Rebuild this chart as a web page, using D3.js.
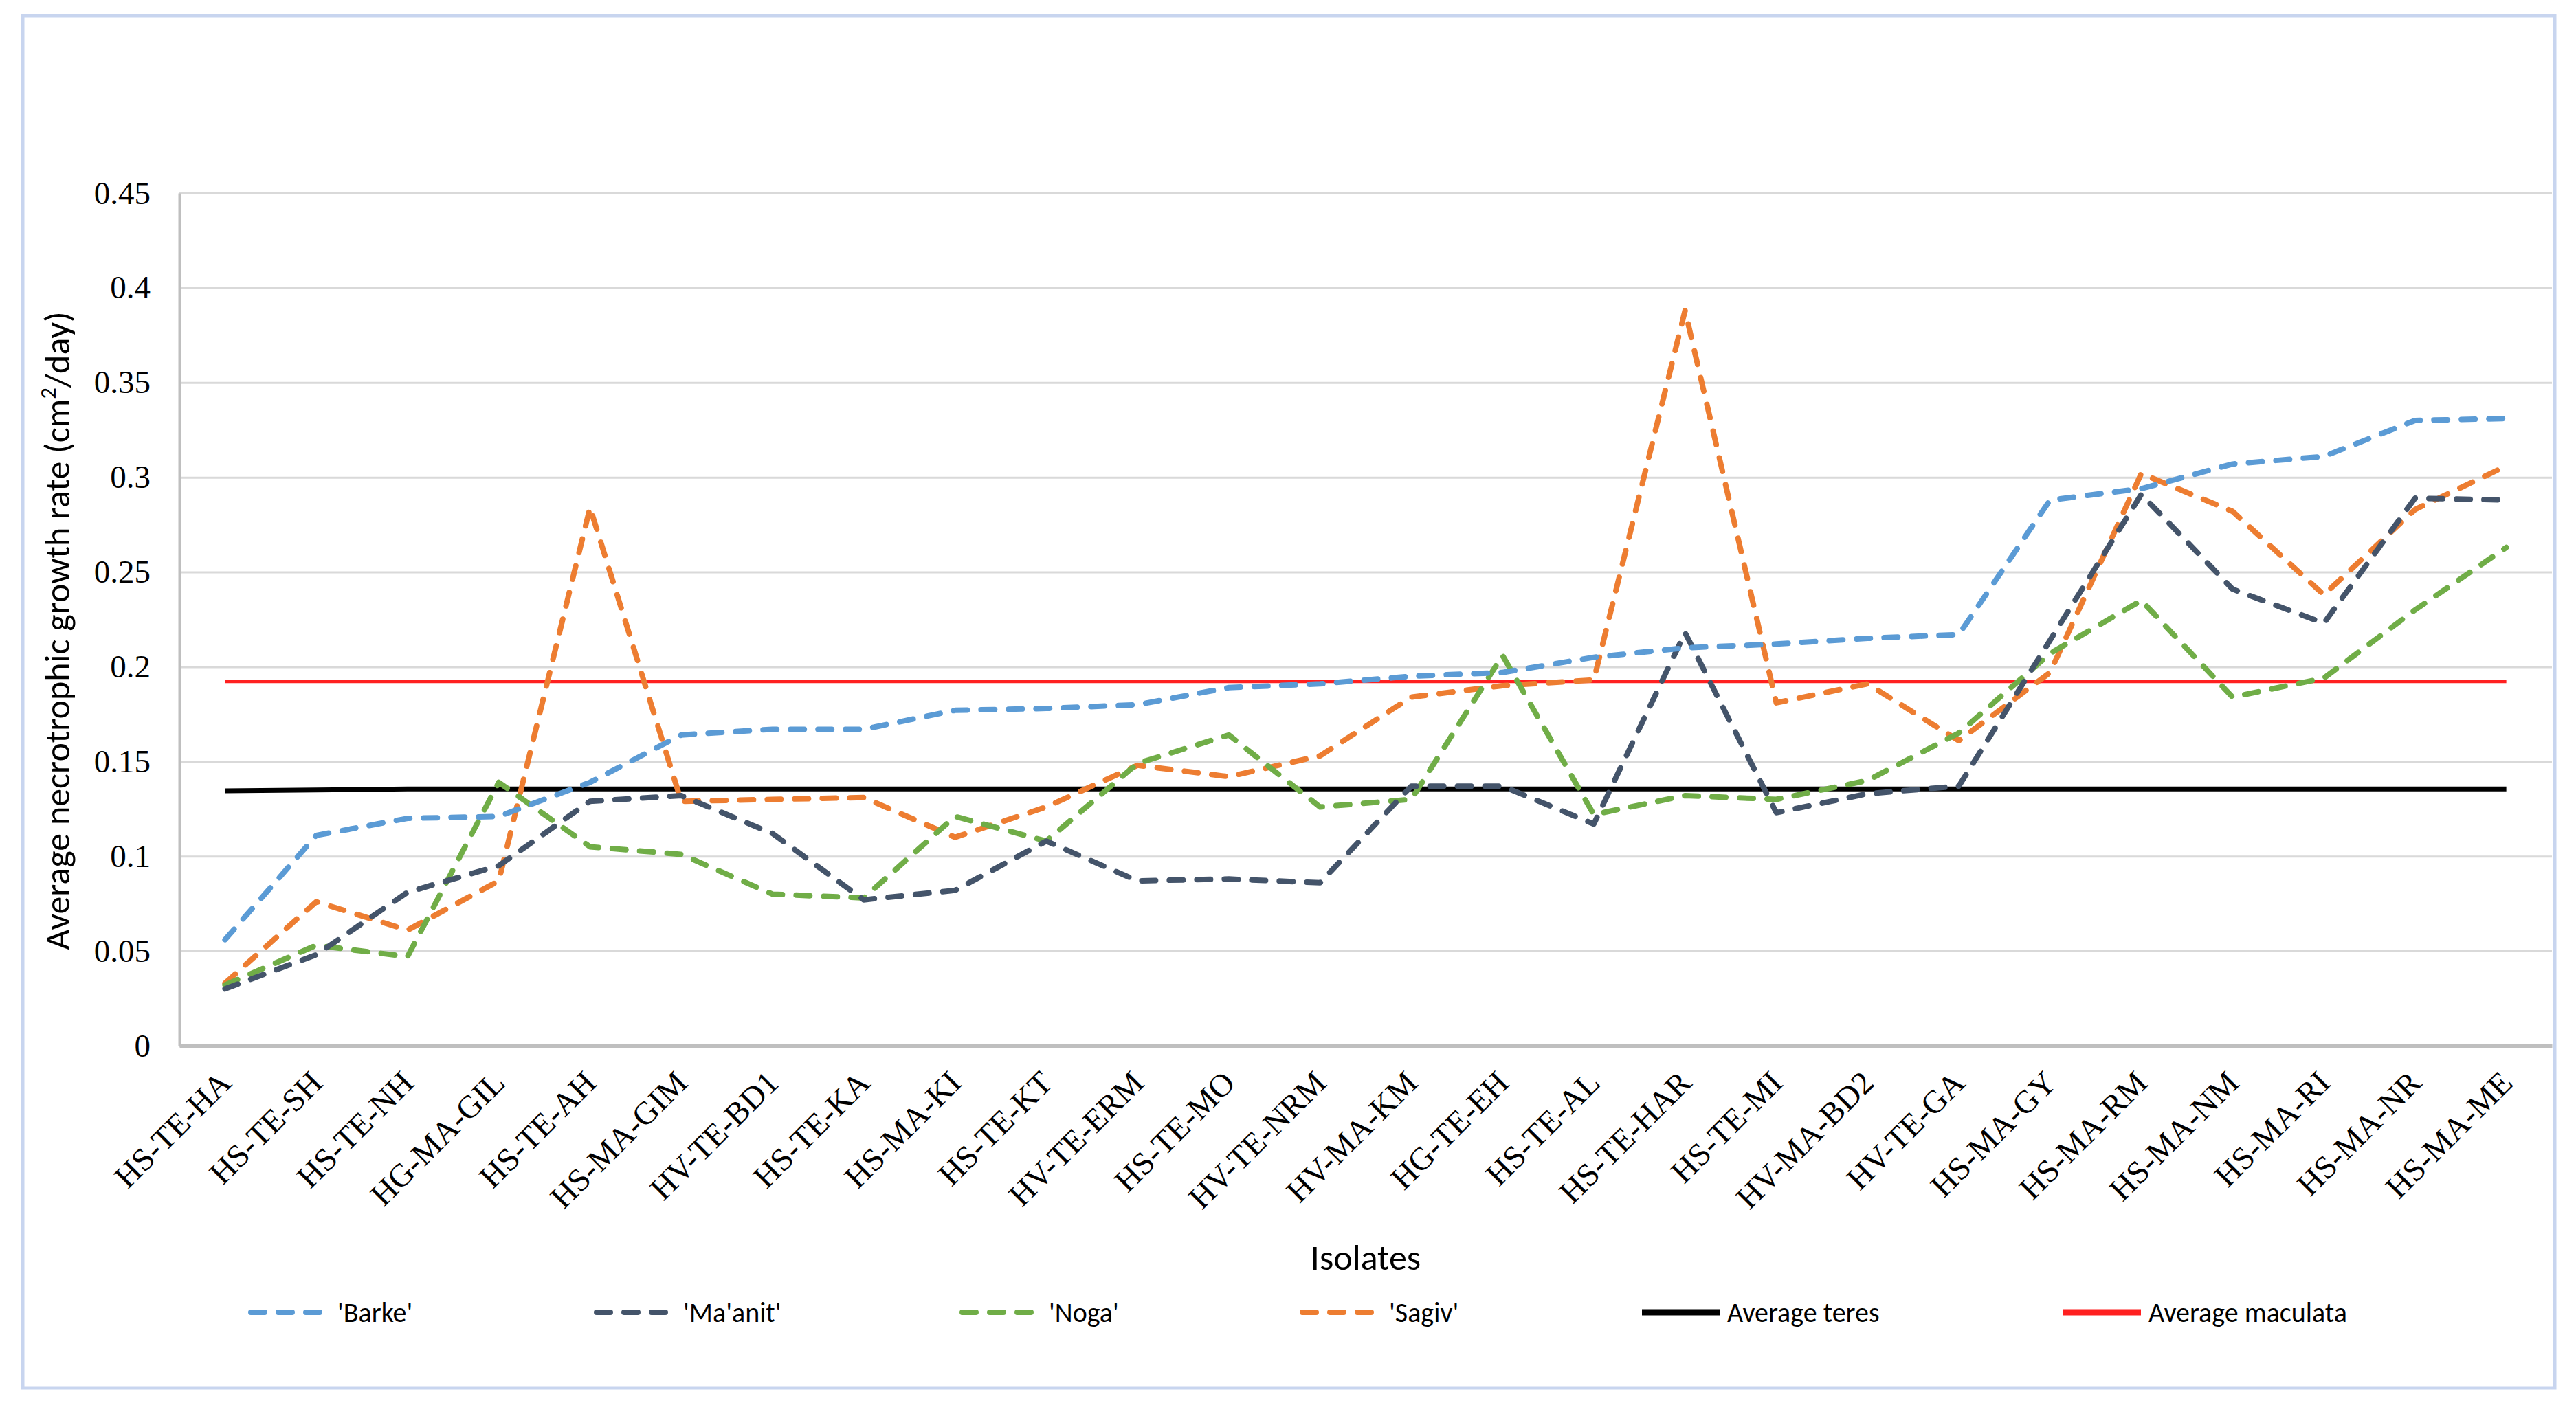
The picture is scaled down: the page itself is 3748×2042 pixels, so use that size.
<!DOCTYPE html>
<html lang="en">
  <head>
    <meta charset="utf-8">
    <title>Necrotrophic growth rate by isolate</title>
    <style>
      body { margin: 0; background: #ffffff; }
      .tick_label { font-family: 'Liberation Serif', 'Times New Roman', serif; font-size: 47px; fill: #000; }
      .title_text { font-family: Carlito, Calibri, Roboto, sans-serif; fill: #000; }
      .legend_text { font-family: Carlito, Calibri, Roboto, sans-serif; font-size: 40px; fill: #000; }
    </style>
  </head>
  <body>
    <div id="svg-area"></div>
    <script src="https://cdnjs.cloudflare.com/ajax/libs/d3/7.8.5/d3.min.js"></script>
    <script>
      const svg_width = 3748;
      const svg_height = 2042;

      //isolates along the x axis
      const isolates = ['HS-TE-HA','HS-TE-SH','HS-TE-NH','HG-MA-GIL','HS-TE-AH','HS-MA-GIM','HV-TE-BD1',
        'HS-TE-KA','HS-MA-KI','HS-TE-KT','HV-TE-ERM','HS-TE-MO','HV-TE-NRM','HV-MA-KM','HG-TE-EH',
        'HS-TE-AL','HS-TE-HAR','HS-TE-MI','HV-MA-BD2','HV-TE-GA','HS-MA-GY','HS-MA-RM','HS-MA-NM',
        'HS-MA-RI','HS-MA-NR','HS-MA-ME'];

      //cultivar series (cm2/day)
      const barke  = [0.056,0.111,0.120,0.121,0.139,0.164,0.167,0.167,0.177,0.178,0.180,0.189,0.191,
                      0.195,0.197,0.205,0.210,0.212,0.215,0.217,0.288,0.294,0.307,0.311,0.330,0.331];
      const maanit = [0.030,0.048,0.081,0.095,0.129,0.132,0.112,0.077,0.082,0.108,0.087,0.088,0.086,
                      0.137,0.137,0.117,0.218,0.123,0.133,0.137,0.214,0.291,0.241,0.223,0.289,0.288];
      const noga   = [0.032,0.053,0.047,0.139,0.105,0.101,0.080,0.078,0.121,0.108,0.149,0.164,0.126,
                      0.130,0.206,0.122,0.132,0.130,0.140,0.165,0.207,0.235,0.184,0.194,0.230,0.263];
      const sagiv  = [0.033,0.076,0.061,0.087,0.284,0.129,0.130,0.131,0.110,0.126,0.148,0.142,0.153,
                      0.184,0.190,0.193,0.388,0.181,0.191,0.161,0.197,0.302,0.282,0.238,0.283,0.306];
      //averages per species
      const avg_teres = [0.1345,0.1350,0.1355,0.1355,0.1355,0.1355,0.1355,0.1355,0.1355,0.1355,0.1355,
                         0.1355,0.1355,0.1355,0.1355,0.1355,0.1355,0.1355,0.1355,0.1355,0.1355,0.1355,
                         0.1355,0.1355,0.1355,0.1355];
      const avg_maculata = [0.1923,0.1923,0.1923,0.1923,0.1923,0.1923,0.1923,0.1923,0.1923,0.1923,
                            0.1923,0.1923,0.1923,0.1923,0.1923,0.1923,0.1923,0.1923,0.1923,0.1923,
                            0.1923,0.1923,0.1923,0.1923,0.1923,0.1923];

      const y_ticks = [0,0.05,0.1,0.15,0.2,0.25,0.3,0.35,0.4,0.45];

      const series = [
        { name: "'Barke'",   values: barke,  color: '#5b9bd5', dashed: true,  width: 8 },
        { name: "'Ma'anit'", values: maanit, color: '#44546a', dashed: true,  width: 8 },
        { name: "'Noga'",    values: noga,   color: '#70ad47', dashed: true,  width: 8 },
        { name: "'Sagiv'",   values: sagiv,  color: '#ed7d31', dashed: true,  width: 8 },
        { name: 'Average teres',    values: avg_teres,    color: '#000000', dashed: false, width: 7 },
        { name: 'Average maculata', values: avg_maculata, color: '#ff2020', dashed: false, width: 5 }
      ];
      //legend entry x positions (line start)
      const legend_x = [361, 864, 1396, 1891, 2389, 3002];

      const margin = {top: 281, right: 35, bottom: 520, left: 261};

      //create SVG element
      const svg = d3.select('#svg-area')
        .append('svg')
        .attr('width', svg_width)
        .attr('height', svg_height);

      //chart frame
      svg.append('rect')
        .attr('x', 33).attr('y', 23)
        .attr('width', 3684).attr('height', 1997)
        .attr('fill', '#ffffff')
        .attr('stroke', '#c8d5ef')
        .attr('stroke-width', 5);

      //define scaling
      const x_scale = d3.scaleBand()
        .domain(isolates)
        .range([margin.left, svg_width - margin.right]);
      const y_scale = d3.scaleLinear()
        .domain([0, 0.45])
        .range([svg_height - margin.bottom, margin.top]);
      const cx = d => x_scale(d) + x_scale.bandwidth() / 2;

      //gridlines
      svg.append('g')
        .attr('transform', `translate(${margin.left},0)`)
        .call(d3.axisLeft(y_scale).tickValues(y_ticks).tickSize(-(svg_width - margin.right - margin.left)).tickFormat(''))
        .call(g => g.select('.domain').remove())
        .call(g => g.selectAll('line').attr('stroke', '#d9d9d9').attr('stroke-width', 3));

      //y axis labels
      svg.append('g')
        .attr('transform', `translate(${margin.left},0)`)
        .call(d3.axisLeft(y_scale).tickValues(y_ticks).tickSize(0).tickPadding(42)
          .tickFormat(d => String(+d.toFixed(2))))
        .call(g => g.select('.domain').attr('stroke', '#bfbfbf').attr('stroke-width', 4))
        .call(g => g.selectAll('text').attr('class', 'tick_label').attr('font-size', null).attr('font-family', null));

      //x axis
      svg.append('g')
        .attr('transform', `translate(0,${y_scale(0)})`)
        .call(d3.axisBottom(x_scale).tickSize(0).tickFormat(''))
        .call(g => g.select('.domain').attr('stroke', '#bfbfbf').attr('stroke-width', 5));

      svg.append('g')
        .selectAll('text').data(isolates).enter()
        .append('text')
        .attr('class', 'tick_label')
        .attr('text-anchor', 'end')
        .attr('dy', '0.35em')
        .attr('transform', d => `translate(${cx(d)},${y_scale(0) + 45}) rotate(-45)`)
        .text(d => d);

      //axis titles
      svg.append('text')
        .attr('class', 'title_text')
        .attr('font-size', 52)
        .attr('text-anchor', 'middle')
        .attr('transform', `translate(83,918) rotate(-90)`)
        .attr('dy', '0.35em')
        .html('Average necrotrophic growth rate (cm<tspan baseline-shift="super" font-size="33">2</tspan>/day)');

      svg.append('text')
        .attr('class', 'title_text')
        .attr('font-size', 52)
        .attr('text-anchor', 'middle')
        .attr('x', (margin.left + svg_width - margin.right) / 2)
        .attr('y', 1830)
        .attr('dy', '0.35em')
        .text('Isolates');

      //lines
      const line = d3.line()
        .x((d, i) => cx(isolates[i]))
        .y(d => y_scale(d));

      svg.append('g')
        .selectAll('path').data(series.slice().reverse()).enter()
        .append('path')
        .attr('d', d => line(d.values))
        .attr('fill', 'none')
        .attr('stroke', d => d.color)
        .attr('stroke-width', d => d.width)
        .attr('stroke-linecap', d => d.dashed ? 'round' : 'butt')
        .attr('stroke-linejoin', 'round')
        .attr('stroke-dasharray', d => d.dashed ? '20 20' : null);

      //legend
      const legend = svg.append('g')
        .selectAll('g').data(series).enter()
        .append('g')
        .attr('transform', (d, i) => `translate(${legend_x[i]},1910)`);
      legend.append('line')
        .attr('x1', d => d.dashed ? 4 : 0)
        .attr('x2', d => d.dashed ? 112 : 113)
        .attr('stroke', d => d.color)
        .attr('stroke-width', d => d.dashed ? 8 : 9)
        .attr('stroke-linecap', d => d.dashed ? 'round' : 'butt')
        .attr('stroke-dasharray', d => d.dashed ? '20 20' : null);
      legend.append('text')
        .attr('class', 'legend_text')
        .attr('x', d => d.dashed ? 130 : 124)
        .attr('dy', '0.35em')
        .text(d => d.name);
    </script>
  </body>
</html>
